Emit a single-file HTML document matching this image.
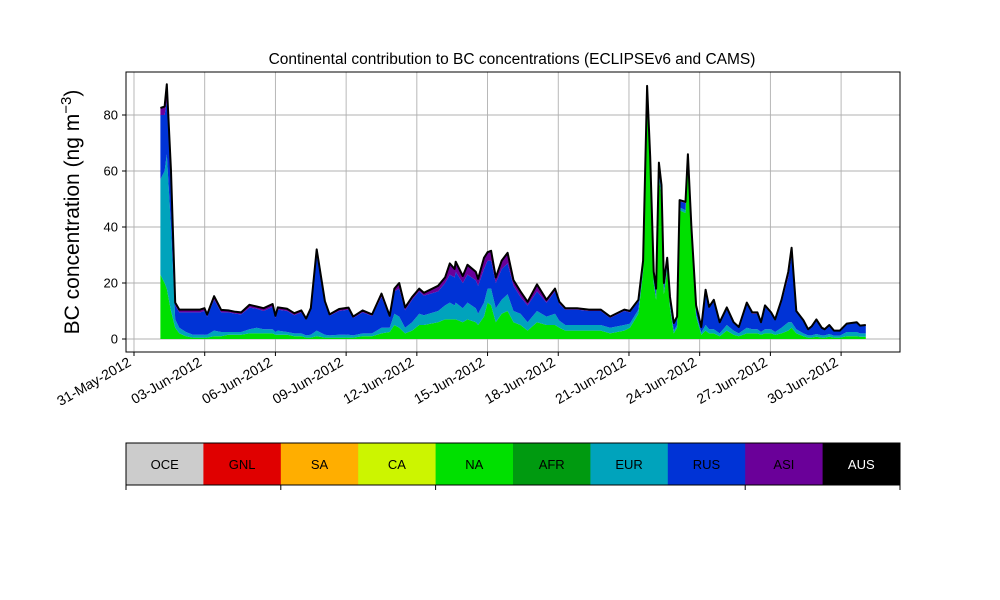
<!DOCTYPE html>
<html><head><meta charset="utf-8"><style>
body{margin:0;background:#fff;}
svg{display:block;font-family:"Liberation Sans","DejaVu Sans",sans-serif;}
</style></head><body>
<svg id="chart" width="1000" height="600" viewBox="0 0 1000 600">
<rect width="1000" height="600" fill="#fff"/>
<g id="grid"></g>
<g id="areas"></g>
<g id="axes"></g>
<text x="512" y="64" font-size="15.5" text-anchor="middle">Continental contribution to BC concentrations (ECLIPSEv6 and CAMS)</text>
<text transform="translate(79,212) rotate(-90)" font-size="21" text-anchor="middle">BC concentration (ng m<tspan dy="-8" font-size="15">−3</tspan><tspan dy="8">)</tspan></text>
<g id="cbar"></g>
</svg>
<script>
const days=[1.12,1.30,1.39,1.57,1.75,1.92,2.2,2.5,2.8,2.99,3.1,3.4,3.7,4.0,4.3,4.55,4.9,5.2,5.5,5.88,6.0,6.1,6.5,6.8,7.1,7.3,7.5,7.75,8.1,8.3,8.7,9.1,9.3,9.7,10.1,10.5,10.85,11.05,11.25,11.5,11.8,12.1,12.3,12.9,13.2,13.4,13.6,13.65,13.95,14.15,14.5,14.6,14.85,15.0,15.15,15.35,15.6,15.85,16.1,16.4,16.7,17.1,17.5,17.86,18.05,18.3,18.8,19.3,19.8,20.2,20.8,21.04,21.4,21.6,21.77,21.9,22.05,22.15,22.27,22.38,22.48,22.62,22.74,22.9,23.04,23.15,23.4,23.5,23.65,23.85,24.07,24.25,24.4,24.6,24.85,25.15,25.44,25.66,26.0,26.23,26.45,26.6,26.77,27.03,27.2,27.47,27.76,27.9,28.1,28.4,28.6,28.75,28.95,29.18,29.3,29.5,29.7,29.95,30.24,30.66,30.8,31.05];
const na=[23,20,18,10,4,2,1,0.5,0.5,0.5,0.5,1,1,1.5,1.5,1.5,2,2,2,2,1.5,1.5,1.5,1,1,0.5,0.5,1,0.5,0.5,0.5,0.5,0.5,1,1,2,2.5,5,4,2,3,5,5,6,7,7,7,7,6,7,6,5,8,13,12,6,9,10,6,5,3,6,5,5,4,3,3,3,3,2,3,4,9,24,84,60,20,14,58,50,16,25,11,2,4,46,45,62,36,8,1.5,3,2,2,1,3,1.5,1,2,2,2,1.5,2,2,1.5,2,3,4,2,1,0.5,0.5,0.8,0.5,0.5,0.8,0.5,0.5,1,1,0.8,0.8];
const eur=[34,40,48,30,3,2,1.5,1,1,1,1,2,1.5,1,1,1,1.5,2,1.5,1.5,1,1.5,1,1,1,0.8,1,2,1,0.8,1,1,0.8,1,1,2,1.5,4,4,2,3,4,3.5,4,5,6,5,6,5,6,5,4,5,5,6,5,5,6,4,4,3,4,3,4,2.5,2,2,2,2,2,2,1.5,1.5,1,1.5,1.5,1,1,1.5,1.5,1,1,1,1,1,1,1,1,1,1,0.8,2,1.5,1.5,1,2,1.5,1,2,1.5,1.5,1,1.5,1.5,1,2,3,2,1.5,1,0.8,0.8,1,0.8,0.8,1,0.7,0.7,1.5,1.5,1.2,1.2];
const rus=[23,20,19,17,5,5.5,7,8,8,8.5,6.5,11,7,7,6.5,6.3,7.7,6.8,6.5,8,5,7.5,7.5,6.5,7.5,5.5,9,27,11,7,8.5,9,6.2,7.5,6.2,11,3.7,8,10,6.3,8,8,7,7,8,10,10,11,9,10,10,10,12,10,10,9,11,11,9,6,6,7,5,8,6,5.5,5.5,5,5,3.5,5,4,3,2.5,3.5,2.5,2.5,2.5,3,3,2.5,2.5,2.5,2.2,2.5,2.2,2.5,2.5,2.5,2.5,1.7,11.6,7.5,10,3.7,5.8,2.7,2,8.5,5.5,5.5,3.2,8,5.5,4.2,9,16,24,6,4.4,2,3,4.9,2.5,2,3,1.6,1.6,2.8,3.3,2.6,2.8];
const asi=[2.5,3,6,3,1,1,1,1,1,1,0.7,1.3,0.9,0.7,0.7,0.7,1,0.8,1,1,0.8,0.8,0.8,0.7,0.7,0.5,0.5,2,1,0.5,0.7,0.7,0.5,0.7,0.6,1.2,0.6,1,2,1,1,1,1,2,2,4,3,3.6,2.5,3.5,3,2.5,4,3,3.5,2,3,3.8,2,2,1.3,2.5,1,1,0.8,0.5,0.5,0.5,0.5,0.5,0.5,0.5,0.5,0.5,1.4,1,0.5,0.5,0.5,0.5,0.5,0.5,0.5,0.5,0.5,0.4,0.5,0.5,0.5,0.5,0.3,1,0.5,0.5,0.3,0.5,0.3,0.3,0.5,0.5,0.5,0.3,0.5,0.5,0.3,1,2,2.6,0.5,0.3,0.2,0.2,0.3,0.2,0.2,0.2,0.2,0.2,0.2,0.2,0.2,0.2];
const yTicks=[0,20,40,60,80];
const xTickDays=[0,3,6,9,12,15,18,21,24,27,30];
const xTickLabels=["31-May-2012","03-Jun-2012","06-Jun-2012","09-Jun-2012","12-Jun-2012","15-Jun-2012","18-Jun-2012","21-Jun-2012","24-Jun-2012","27-Jun-2012","30-Jun-2012"];
const regions=["OCE","GNL","SA","CA","NA","AFR","EUR","RUS","ASI","AUS"];
const regionColors=["#cccccc","#e00000","#ffae00","#ccf500","#00e000","#009a10","#00a3bc","#0033d6","#6a0099","#000000"];

const NS="http://www.w3.org/2000/svg";
const L=126,R=900,T=72,B=352;
const xs=d=>134+d*23.57;
const ys=v=>339-v*2.8;
function mk(tag,attrs,parent){const e=document.createElementNS(NS,tag);for(const k in attrs)e.setAttribute(k,attrs[k]);parent.appendChild(e);return e;}
const grid=document.getElementById('grid'),axes=document.getElementById('axes'),areas=document.getElementById('areas'),cbar=document.getElementById('cbar');
yTicks.forEach(v=>{
  const g=mk('line',{x1:L,x2:R,y1:ys(v),y2:ys(v),stroke:'#b0b0b0','stroke-width':0.9},grid);
  
  
  mk('line',{x1:L-4,x2:L,y1:ys(v),y2:ys(v),stroke:'#000'},axes);
  const t=mk('text',{x:L-8,y:ys(v)+4.5,'font-size':13,'text-anchor':'end'},axes);
  t.textContent=v;
  
  
});
xTickDays.forEach((d,i)=>{
  const x=xs(d);
  const g=mk('line',{x1:x,x2:x,y1:T,y2:B,stroke:'#b0b0b0','stroke-width':0.9},grid);
  
  
  mk('line',{x1:x,x2:x,y1:B,y2:B+4,stroke:'#000'},axes);
  const t=mk('text',{transform:`translate(${x-2},${B+13}) rotate(-30)`,'font-size':14,'text-anchor':'end'},axes);
  t.textContent=xTickLabels[i];
  
  
});
const layers=[["NA",na,"#00e000"],["EUR",eur,"#00a3bc"],["RUS",rus,"#0033d6"],["ASI",asi,"#6a0099"]];
let base=days.map(()=>0);
layers.forEach(([nm,vals,col])=>{
  const top=base.map((b,i)=>b+vals[i]);
  let d='M'+days.map((t,i)=>xs(t).toFixed(1)+','+ys(top[i]).toFixed(1)).join('L');
  for(let i=days.length-1;i>=0;i--) d+='L'+xs(days[i]).toFixed(1)+','+ys(base[i]).toFixed(1);
  const p=mk('path',{d:d+'Z',fill:col},areas);
  
  
  base=top;
});
const ln=mk('path',{d:'M'+days.map((t,i)=>xs(t).toFixed(1)+','+ys(base[i]).toFixed(1)).join('L'),fill:'none',stroke:'#000','stroke-width':2,'stroke-linejoin':'round'},areas);


const fr=mk('rect',{x:L,y:T,width:R-L,height:B-T,fill:'none',stroke:'#000','stroke-width':1},axes);


const cw=(R-L)/regions.length;
regions.forEach((r,i)=>{
  const rc=mk('rect',{x:L+i*cw,y:443,width:cw+0.5,height:42,fill:regionColors[i]},cbar);
  
  
  const t=mk('text',{x:L+i*cw+cw/2,y:469,'font-size':13,'text-anchor':'middle',fill:r==='AUS'?'#fff':'#000'},cbar);
  t.textContent=r;
  
  
});
mk('rect',{x:L,y:443,width:R-L,height:42,fill:'none',stroke:'#000','stroke-width':1},cbar);
[0,0.2,0.4,0.8,1].forEach(f=>mk('line',{x1:L+f*(R-L),x2:L+f*(R-L),y1:485,y2:490,stroke:'#000'},cbar));
</script>
</body></html>
